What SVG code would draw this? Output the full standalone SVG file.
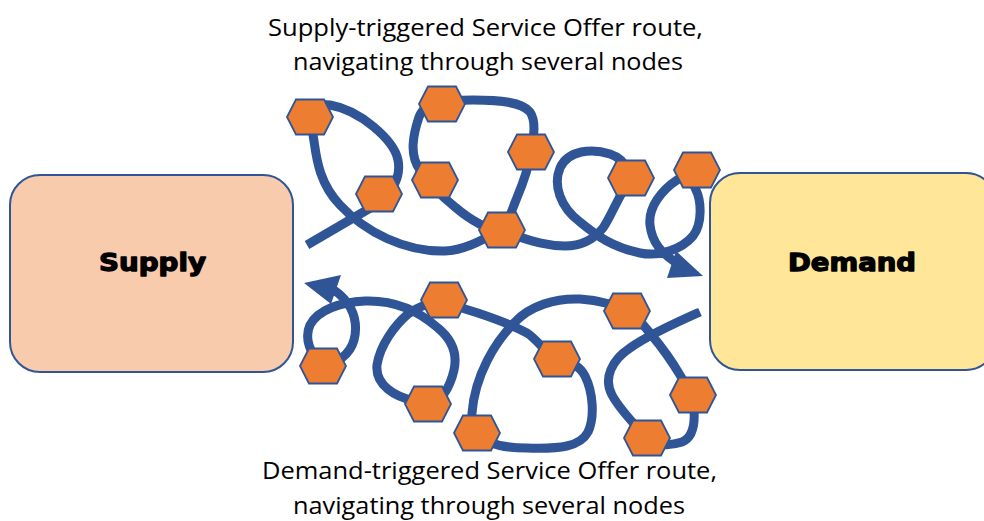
<svg xmlns="http://www.w3.org/2000/svg" xmlns:xlink="http://www.w3.org/1999/xlink" width="984" height="521" viewBox="0 0 984 521">
<style>
.box{stroke:#2F5597;stroke-width:2}
.big{font-family:"DejaVu Sans","Liberation Sans",sans-serif;font-weight:bold;font-size:25px;fill:#000;stroke:#000;stroke-width:1.3;stroke-linejoin:round}
.cap{font-family:"Open Sans","Noto Sans",sans-serif;font-size:24px;fill:#000}
.route{fill:none;stroke:#2F5597;stroke-width:9;stroke-linecap:butt;stroke-linejoin:round}
.head{fill:#2F5597}
.hex{fill:#ED7D31;stroke:#2F5597;stroke-width:1.8}
</style>
<defs>
<polygon id="hex" class="hex" points="-23,0 -14,-17.5 14,-17.5 23,0 14,17.5 -14,17.5"/>
</defs>
<rect width="984" height="521" fill="#fff"/>
<g id="supply">
<rect class="box" x="10" y="175" width="283" height="197" rx="30" fill="#F8CBAD"/>
<text class="big" x="99" y="271" textLength="107" lengthAdjust="spacingAndGlyphs">Supply</text>
</g>
<g id="demand">
<rect class="box" x="710" y="173" width="286" height="197" rx="30" fill="#FFE699"/>
<text class="big" x="788" y="271" textLength="128" lengthAdjust="spacingAndGlyphs">Demand</text>
</g>
<g id="labels">
<text class="cap" x="268" y="36" textLength="435" lengthAdjust="spacingAndGlyphs">Supply-triggered Service Offer route,</text>
<text class="cap" x="293" y="70" textLength="390" lengthAdjust="spacingAndGlyphs">navigating through several nodes</text>
<text class="cap" x="262" y="479" textLength="455" lengthAdjust="spacingAndGlyphs">Demand-triggered Service Offer route,</text>
<text class="cap" x="293" y="514" textLength="392" lengthAdjust="spacingAndGlyphs">navigating through several nodes</text>
</g>
<g id="connectors">
<path id="supply-route" class="route" d="M307,245 L372,207 C388,198 402,180 398,160 C394,140 360,110 330,105 C315,103 307,115 313,135 C316,150 316,180 340,205 C365,232 405,252 445,251 C465,250 482,240 497,232 C507,227 510,215 516,200 C521,188 528,172 531,152 C533,140 537,122 530,112 C522,102 500,100 473,100 C450,100 425,100 419,117 C413,135 409,155 420,170 C428,182 440,195 455,207 C468,218 485,229 502,232 C520,236 540,246 565,246 C583,246 595,238 603,228 C610,218 617,200 625,188 C632,177 628,160 610,154 C592,148 568,150 560,168 C553,185 560,207 580,222 C597,236 612,247 640,253 C660,257 682,249 693,236 C703,223 701,200 696,190 C692,180 684,175 677,180 C662,190 648,207 650,225 C652,243 662,253 675,262"/>
<polygon class="head" points="703,276 667,278 676,251"/>
<path id="demand-route" class="route" d="M700,312 C682,320 650,334 630,348 C612,360 603,378 612,395 C620,410 635,425 647,438 C655,446 670,446 682,442 C692,438 695,425 694,410 C693,398 688,388 680,375 C670,358 660,345 650,333 C642,323 636,316 627,311 C618,306 600,300 580,299 C555,298 530,306 515,322 C495,342 475,375 472,413 C471,425 475,430 480,436 C490,445 505,448 527,448 C560,449 580,447 588,432 C595,417 593,392 585,376 C580,366 570,361 557,359 C548,356 538,340 527,333 C510,324 485,315 465,309 C455,306 450,302 444,300 C434,300 418,307 408,314 C395,325 380,345 377,365 C375,385 395,397 415,401 C422,403 425,404 428,404 C440,404 450,388 454,370 C458,352 450,338 438,328 C420,312 395,300 365,301 C340,302 318,310 310,325 C304,338 310,355 323,366 C336,364 350,355 354,340 C358,325 354,310 345,300 C340,294 336,291 330,288"/>
<polygon class="head" points="304,283 341,275 331,304"/>
</g>
<g id="s1"><use xlink:href="#hex" x="310" y="117"/></g>
<g id="s2"><use xlink:href="#hex" x="379" y="194"/></g>
<g id="s3"><use xlink:href="#hex" x="442" y="104"/></g>
<g id="s4"><use xlink:href="#hex" x="435" y="180"/></g>
<g id="s5"><use xlink:href="#hex" x="531" y="152"/></g>
<g id="s6"><use xlink:href="#hex" x="502" y="230"/></g>
<g id="s7"><use xlink:href="#hex" x="631" y="178"/></g>
<g id="s8"><use xlink:href="#hex" x="697" y="170"/></g>
<g id="d1"><use xlink:href="#hex" x="323" y="366"/></g>
<g id="d2"><use xlink:href="#hex" x="444" y="300"/></g>
<g id="d3"><use xlink:href="#hex" x="428" y="404"/></g>
<g id="d4"><use xlink:href="#hex" x="477" y="433"/></g>
<g id="d5"><use xlink:href="#hex" x="557" y="359"/></g>
<g id="d6"><use xlink:href="#hex" x="627" y="311"/></g>
<g id="d7"><use xlink:href="#hex" x="693" y="395"/></g>
<g id="d8"><use xlink:href="#hex" x="647" y="438"/></g>
</svg>
